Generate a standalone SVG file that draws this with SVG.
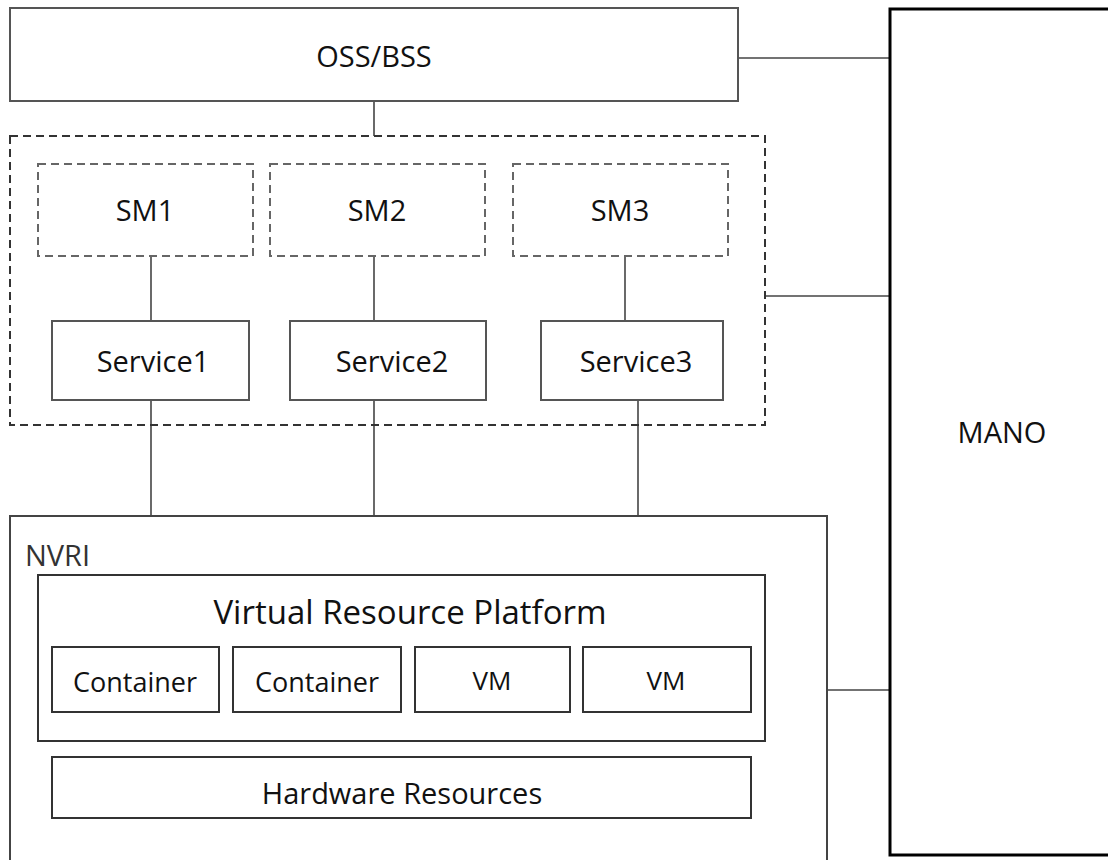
<svg xmlns="http://www.w3.org/2000/svg" width="1108" height="860" viewBox="0 0 1108 860">
<style>
text{font-family:"Open Sans","Noto Sans","Liberation Sans",sans-serif;fill:#111;text-anchor:middle}
.box{fill:#fff;stroke:#555;stroke-width:2}
.dk{fill:#fff;stroke:#333;stroke-width:2}
.dash{fill:none;stroke:#333;stroke-width:2;stroke-dasharray:8 5}
.sm{fill:#fff;stroke:#666;stroke-width:2;stroke-dasharray:8 5}
.ln{stroke:#444;stroke-width:1.6;fill:none}
.t28{font-size:29px}
.t27{font-size:27px}
</style>
<rect width="1108" height="860" fill="#fff"/>
<g id="connectors">
<line class="ln" x1="374" y1="101" x2="374" y2="136"/>
<line class="ln" x1="738" y1="58" x2="890" y2="58" stroke="#777"/>
<line class="ln" x1="765" y1="296" x2="890" y2="296"/>
<line class="ln" x1="827" y1="690" x2="890" y2="690"/>
<line class="ln" x1="151" y1="256" x2="151" y2="321"/>
<line class="ln" x1="374" y1="256" x2="374" y2="321"/>
<line class="ln" x1="625" y1="256" x2="625" y2="321"/>
<line class="ln" x1="151" y1="400" x2="151" y2="516"/>
<line class="ln" x1="374" y1="400" x2="374" y2="516"/>
<line class="ln" x1="638" y1="400" x2="638" y2="516"/>
</g>
<g id="oss">
<rect class="box" x="10" y="8" width="728" height="93"/>
<text class="t28" x="374" y="67">OSS/BSS</text>
</g>
<g id="mano">
<rect x="890" y="9" width="240" height="846" fill="#fff" stroke="#000" stroke-width="3"/>
<text class="t28" x="1002" y="443">MANO</text>
</g>
<g id="service-layer">
<rect class="dash" x="10" y="136" width="755" height="289"/>
</g>
<g id="sm1">
<rect class="sm" x="38" y="164" width="215" height="92"/>
<text class="t28" x="145" y="221">SM1</text>
</g>
<g id="sm2">
<rect class="sm" x="270" y="164" width="215" height="92"/>
<text class="t28" x="377" y="221">SM2</text>
</g>
<g id="sm3">
<rect class="sm" x="513" y="164" width="215" height="92"/>
<text class="t28" x="620" y="221">SM3</text>
</g>
<g id="service1">
<rect class="box" x="52" y="321" width="197" height="79"/>
<text class="t28" x="153" y="372">Service1</text>
</g>
<g id="service2">
<rect class="box" x="290" y="321" width="196" height="79"/>
<text class="t28" x="392" y="372">Service2</text>
</g>
<g id="service3">
<rect class="box" x="541" y="321" width="182" height="79"/>
<text class="t28" x="636" y="372">Service3</text>
</g>
<g id="nvri">
<rect x="10" y="516" width="817" height="360" fill="#fff" stroke="#444" stroke-width="2"/>
<text class="t28" x="25" y="566" style="text-anchor:start;fill:#333">NVRI</text>
</g>
<g id="vrp">
<rect class="dk" x="38" y="575" width="727" height="166"/>
<text x="410" y="624" style="font-size:33px">Virtual Resource Platform</text>
</g>
<g id="container1">
<rect class="dk" x="52" y="647" width="167" height="65"/>
<text class="t27" x="135" y="692">Container</text>
</g>
<g id="container2">
<rect class="dk" x="233" y="647" width="168" height="65"/>
<text class="t27" x="317" y="692">Container</text>
</g>
<g id="vm1">
<rect class="dk" x="415" y="647" width="155" height="65"/>
<text class="t27" x="492" y="690" style="font-size:26px">VM</text>
</g>
<g id="vm2">
<rect class="dk" x="583" y="647" width="168" height="65"/>
<text class="t27" x="666" y="690" style="font-size:26px">VM</text>
</g>
<g id="hardware">
<rect class="dk" x="52" y="757" width="699" height="61"/>
<text class="t28" x="402" y="804">Hardware Resources</text>
</g>
</svg>
